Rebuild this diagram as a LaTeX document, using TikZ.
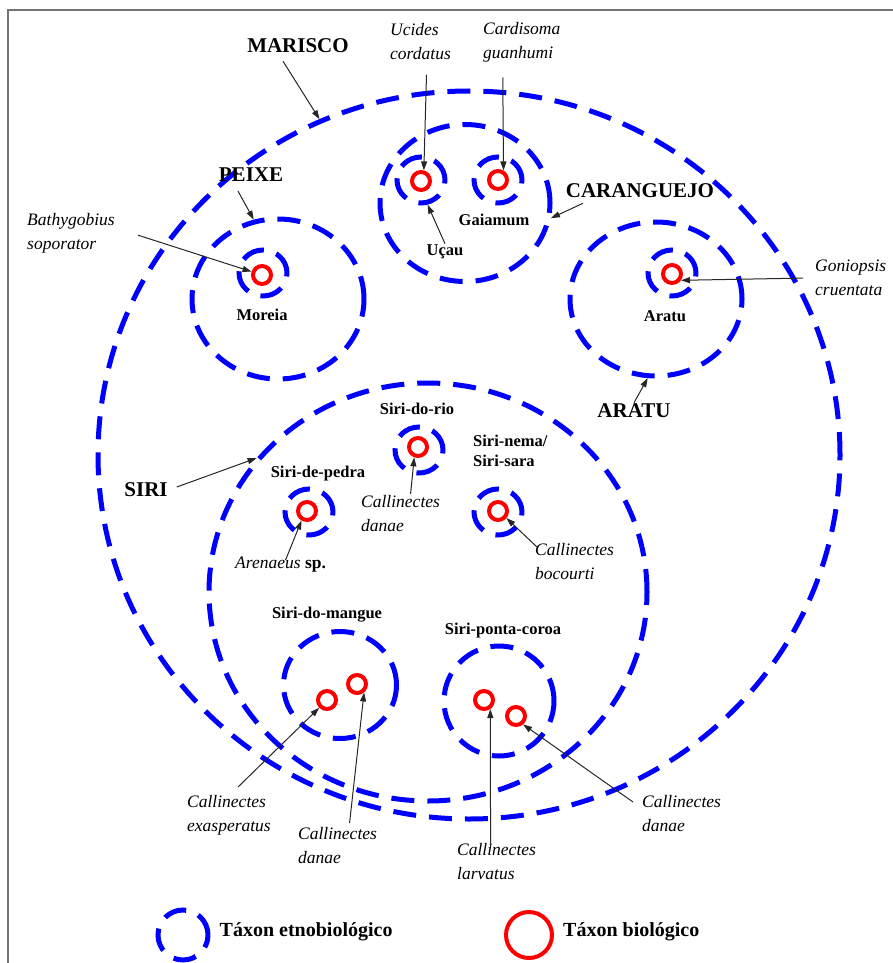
\documentclass[tikz,border=0pt]{standalone}
\usepackage{fontspec}
\setmainfont{Liberation Serif}
\usetikzlibrary{arrows.meta,shapes.geometric,positioning}

\begin{document}
\begin{tikzpicture}[x=1pt,y=-1pt,
    etno/.style={ellipse,draw=blue,line width=5pt,dash pattern=on 23pt off 13pt,inner sep=0pt},
    anel/.style={etno,minimum width=48pt,minimum height=46pt},
    bio/.style={circle,draw=red,line width=4pt,minimum size=18pt,inner sep=0pt},
    grupo/.style={font=\fontsize{21}{25}\selectfont\bfseries,inner sep=1pt},
    etnonome/.style={font=\fontsize{16.5}{20}\selectfont\bfseries,inner sep=1pt,align=left},
    especie/.style={font=\fontsize{17.5}{24}\selectfont\itshape,align=left,inner sep=1pt,anchor=north west},
    legenda/.style={font=\fontsize{20}{24}\selectfont\bfseries,inner sep=1pt},
    seta/.style={-{Triangle[length=9pt,width=6pt]},line width=1pt,black!85}]
    \useasboundingbox (0,0) rectangle (893,963);
    \draw [black!55,line width=2pt] (8,963) -- (8,10) -- (893,10);

    % taxons etnobiologicos
    \node [etno,minimum width=742pt,minimum height=728pt] (marisco) at (469,455) {};
    \node [etno,minimum width=172pt,minimum height=160pt] (peixe) at (278,299) {};
    \node [etno,minimum width=170pt,minimum height=157pt] (caranguejo) at (465,203) {};
    \node [etno,minimum width=172pt,minimum height=154pt] (aratu) at (656,299) {};
    \node [etno,minimum width=438pt,minimum height=418pt] (siri) at (428,592) {};
    \node [etno,minimum width=113pt,minimum height=107pt] (sirimangue) at (340,685) {};
    \node [etno,minimum width=110pt,minimum height=110pt] (siriponta) at (499,701) {};
    \node [anel] (moreia) at (263,273) {};
    \node [anel] (ucau) at (421,180) {};
    \node [anel] (gaiamum) at (498,180) {};
    \node [anel] (aratuanel) at (672,273) {};
    \node [anel] (siririo) at (419,450) {};
    \node [anel] (siripedra) at (309,512) {};
    \node [anel] (sirinema) at (498,512) {};

    % taxons biologicos
    \node [bio] (bathy) at (262,275) {};
    \node [bio] (ucides) at (421,181) {};
    \node [bio] (cardisoma) at (498,180) {};
    \node [bio] (goniopsis) at (672,274) {};
    \node [bio] (danaerio) at (418,447) {};
    \node [bio] (arenaeus) at (307,511) {};
    \node [bio] (bocourti) at (498,511) {};
    \node [bio] (exasperatus) at (327,700) {};
    \node [bio] (danaemangue) at (357,684) {};
    \node [bio] (larvatus) at (484,700) {};
    \node [bio] (danaeponta) at (516,716) {};

    % nomes
    \node [grupo] (lblmarisco) at (298,46) {MARISCO};
    \node [grupo] (lblpeixe) at (251,175) {PEIXE};
    \node [grupo] (lblcaranguejo) at (640,191) {CARANGUEJO};
    \node [grupo] (lblaratu) at (634,411) {ARATU};
    \node [grupo] (lblsiri) at (146,490) {SIRI};
    \node [etnonome] (lblmoreia) at (262,315) {Moreia};
    \node [etnonome] (lblucau) at (445,252) {Uçau};
    \node [etnonome] (lblgaiamum) at (494,220) {Gaiamum};
    \node [etnonome] (lblaratuanel) at (665,316) {Aratu};
    \node [etnonome] (lblsiririo) at (417,409) {Siri-do-rio};
    \node [etnonome] (lblsiripedra) at (318,474) {Siri-de-pedra};
    \node [etnonome,anchor=north west] (lblsirinema) at (472,434) {Siri-nema/\\Siri-sara};
    \node [etnonome] (lblsirimangue) at (327,615) {Siri-do-mangue};
    \node [etnonome] (lblsiriponta) at (503,631) {Siri-ponta-coroa};

    \node [especie] (lblucides) at (389,22) {Ucides\\cordatus};
    \node [especie] (lblcardisoma) at (482,21) {Cardisoma\\guanhumi};
    \node [especie] (lblbathy) at (26,212) {Bathygobius\\soporator};
    \node [especie] (lblgoniopsis) at (814,259) {Goniopsis\\cruentata};
    \node [especie] (lbldanaerio) at (360,494) {Callinectes\\danae};
    \node [especie] (lblarenaeus) at (234,556) {Arenaeus \textup{\bfseries sp.}};
    \node [especie] (lblbocourti) at (534,542) {Callinectes\\bocourti};
    \node [especie] (lblexasperatus) at (186,794) {Callinectes\\exasperatus};
    \node [especie] (lbldanaemangue) at (297,826) {Callinectes\\danae};
    \node [especie] (lbllarvatus) at (456,842) {Callinectes\\larvatus};
    \node [especie] (lbldanaeponta) at (641,794) {Callinectes\\danae};

    % setas
    \draw [seta] ([xshift=-15pt,yshift=-7pt]lblmarisco.south) -- (marisco.114);
    \draw [seta] ([xshift=-13pt,yshift=-8pt]lblpeixe.south) -- (peixe.107);
    \draw [seta] ([xshift=-57pt,yshift=-4pt]lblcaranguejo.south) -- (caranguejo.-10);
    \draw [seta] (lblaratu.north) -- (aratu.-96);
    \draw [seta] ([xshift=8pt,yshift=3pt]lblsiri.east) -- (siri.142);
    \draw [seta] (lblucau.north) -- (ucau.-75);
    \draw [seta] ([xshift=6pt,yshift=-14pt]lblucides.south) -- (ucides.75);
    \draw [seta] ([xshift=-19pt,yshift=-14pt]lblcardisoma.south) -- (cardisoma.60);
    \draw [seta] ([xshift=22pt,yshift=-2pt]lblbathy.east) -- (bathy);
    \draw [seta] ([xshift=-11pt]lblgoniopsis.west) -- (goniopsis.-35);
    \draw [seta] ([xshift=10pt]lbldanaerio.north) -- (danaerio.-110);
    \draw [seta] ([xshift=5pt,yshift=-4pt]lblarenaeus.north) -- (arenaeus.-120);
    \draw [seta] ([xshift=3pt,yshift=-5pt]lblbocourti.north west) -- (bocourti.-40);
    \draw [seta] ([xshift=9pt,yshift=7pt]lblexasperatus.north) -- (exasperatus.-135);
    \draw [seta] ([xshift=12pt,yshift=3pt]lbldanaemangue.north) -- (danaemangue.-50);
    \draw [seta] ([xshift=-6pt,yshift=-5pt]lbllarvatus.north) -- (larvatus.-55);
    \draw [seta] ([xshift=-8pt,yshift=-8pt]lbldanaeponta.north west) -- (danaeponta.-50);

    % legenda
    \node [etno,minimum width=50pt,minimum height=50pt] (legetno) at (183,935) {};
    \node [legenda,right=8pt of legetno,yshift=3pt] (lbllegetno) {Táxon etnobiológico};
    \node [bio,minimum size=46pt] (legbio) at (529,935) {};
    \node [legenda,right=8pt of legbio,yshift=3pt] (lbllegbio) {Táxon biológico};
\end{tikzpicture}
\end{document}
